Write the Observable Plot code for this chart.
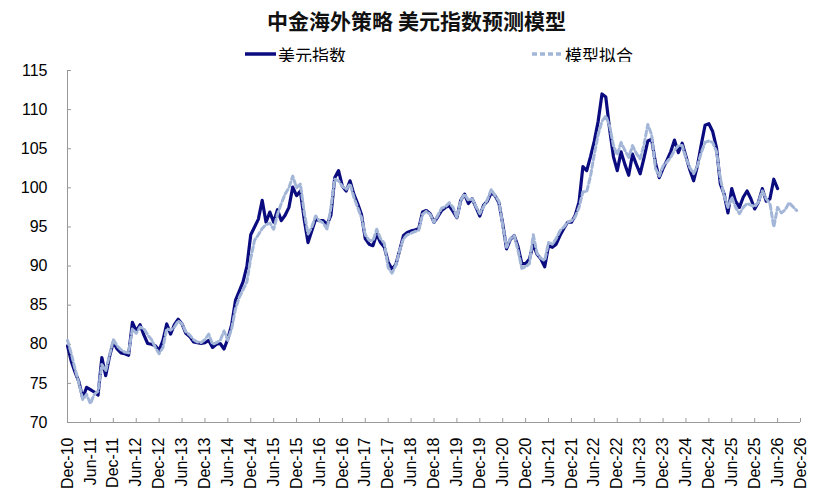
<!DOCTYPE html>
<html><head><meta charset="utf-8">
<script src="https://cdn.jsdelivr.net/npm/d3@7"></script>
<script src="https://cdn.jsdelivr.net/npm/@observablehq/plot@0.6"></script>
<style>
body{margin:0;background:#fff;width:833px;height:503px;overflow:hidden;font-family:"Liberation Sans",Arial,sans-serif;}
#title{position:absolute;left:0;top:6px;width:833px;text-align:center;font:bold 21px "Noto Sans CJK SC",sans-serif;color:#111;line-height:28px;}
.leg{position:absolute;top:42px;height:24px;display:flex;align-items:center;font:17px "Noto Sans CJK SC",sans-serif;color:#000;}
#chart{position:absolute;left:0;top:62px;}
</style></head>
<body>
<div id="title">中金海外策略 美元指数预测模型</div>
<div class="leg" style="left:245px"><svg width="32" height="10"><line x1="0" y1="5" x2="31" y2="5" stroke="#0b0b80" stroke-width="3.5"/></svg><span style="margin-left:1px">美元指数</span></div>
<div class="leg" style="left:532px"><svg width="32" height="10"><line x1="0" y1="5" x2="31" y2="5" stroke="#a3b6d8" stroke-width="3.5" stroke-dasharray="5,3"/></svg><span style="margin-left:1px">模型拟合</span></div>
<div id="chart"></div>
<script>
// Monthly values starting Dec-10
const dollarIndex = [
79.8,77.8,76.4,75.2,73.1,74.5,74.2,73.9,73.5,78.3,76.0,78.4,
80.3,79.4,78.9,78.8,78.6,82.8,81.7,82.5,81.2,80.1,80.0,79.8,
79.2,80.5,82.6,81.3,82.5,83.2,82.6,81.4,81.0,80.3,80.2,80.1,
80.2,80.5,79.6,80.0,80.1,79.4,80.7,82.5,85.6,86.8,88.0,90.0,
94.0,95.0,96.0,98.4,95.6,96.9,95.6,97.2,95.8,96.5,97.5,100.1,
99.0,99.6,96.0,93.0,94.5,96.0,95.8,95.8,95.3,96.5,101.3,102.2,
100.2,99.6,100.9,99.2,98.0,96.6,93.5,92.8,92.6,94.1,93.0,92.4,
90.5,89.6,90.2,92.0,93.9,94.3,94.5,94.6,94.8,96.9,97.1,96.7,
95.6,96.3,97.1,97.5,97.7,97.0,96.2,98.4,99.2,98.0,98.6,97.5,
96.4,97.8,98.3,99.4,99.0,98.1,95.4,92.2,93.4,93.9,92.5,90.3,
90.3,90.9,92.8,91.5,90.9,89.9,92.6,92.4,92.8,93.9,94.8,95.6,
95.6,96.5,98.2,102.7,102.2,104.0,106.0,108.5,112.0,111.6,107.5,104.0,
102.2,104.6,103.0,101.6,104.3,103.0,101.8,103.8,106.0,106.2,103.2,101.3,
102.5,103.5,104.6,106.1,104.5,105.7,104.0,102.3,100.9,102.8,105.5,108.0,
108.2,107.2,105.1,100.5,99.2,96.8,99.9,98.3,97.5,98.8,99.6,98.6,
97.3,98.2,99.9,98.3,98.6,101.1,99.9
];
const modelFit = [
80.5,78.8,76.8,75.0,72.9,73.6,72.4,73.6,74.0,77.4,76.6,78.6,
80.6,79.8,79.3,79.0,78.9,82.0,81.4,82.2,82.0,81.2,80.6,79.6,
78.8,79.6,82.0,81.8,82.2,83.0,82.6,81.6,81.2,80.6,80.3,80.2,
80.6,81.3,80.0,80.2,80.5,81.7,80.5,82.0,84.5,86.0,87.0,88.0,
91.0,93.3,94.0,94.8,95.3,95.5,94.7,96.6,98.0,99.2,100.0,101.5,
100.0,100.5,96.9,94.1,95.0,96.4,95.8,95.5,94.7,97.5,101.1,100.9,
100.2,99.8,100.5,98.8,97.5,96.2,94.0,93.3,93.2,94.7,93.5,92.9,
89.8,89.1,90.1,92.0,93.5,94.0,94.2,94.4,94.6,96.6,97.0,96.6,
95.6,96.5,97.4,97.6,98.1,97.5,96.2,98.4,99.2,98.4,98.6,97.6,
96.7,97.6,98.5,99.8,99.0,98.3,95.2,92.4,93.5,93.9,92.0,89.7,
89.9,90.3,94.0,91.6,91.0,90.7,93.0,92.8,93.5,94.5,95.0,95.6,
95.8,96.3,97.5,99.5,99.5,101.5,104.3,106.8,108.5,109.2,107.9,105.4,
104.2,105.8,104.8,103.9,105.4,104.4,103.7,105.5,108.1,106.8,102.5,101.5,
102.8,103.3,103.9,104.8,105.4,105.4,103.8,102.6,101.8,102.8,104.5,105.8,
106.0,105.8,104.6,101.2,99.0,97.5,98.8,97.5,96.7,97.5,98.0,97.8,
97.6,98.2,99.6,98.6,98.0,95.0,97.5,96.8,97.2,98.1,97.6,97.1
];
const tickLabels = ["Dec-10","Jun-11","Dec-11","Jun-12","Dec-12","Jun-13","Dec-13","Jun-14","Dec-14","Jun-15","Dec-15","Jun-16","Dec-16","Jun-17","Dec-17","Jun-18","Dec-18","Jun-19","Dec-19","Jun-20","Dec-20","Jun-21","Dec-21","Jun-22","Dec-22","Jun-23","Dec-23","Jun-24","Dec-24","Jun-25","Dec-25","Jun-26","Dec-26"];
const yTicks = [70,75,80,85,90,95,100,105,110,115];

const actualData = dollarIndex.map((v, i) => ({m: i, v}));
const modelData = modelFit.map((v, i) => ({m: i, v}));
const xTicks = tickLabels.map((_, i) => i * 6);
const fmtX = d => tickLabels[Math.round(d / 6)];

const chart = Plot.plot({
  width: 833, height: 441,
  marginTop: 8, marginBottom: 81, marginLeft: 67, marginRight: 33,
  style: {fontFamily: "'Liberation Sans', Arial, sans-serif", fontSize: "16px", color: "#000", background: "#fff", overflow: "visible"},
  x: {domain: [0, 192]},
  y: {domain: [70, 115]},
  marks: [
    Plot.axisX({ticks: xTicks, tickFormat: fmtX, tickRotate: -90, tickSize: 4, dy: -4, tickPadding: 15, stroke: "#999", fill: "#000", fontSize: 16, label: null}),
    Plot.axisY({ticks: yTicks, tickSize: 4, dx: 4, tickPadding: 20, stroke: "#999", fill: "#000", fontSize: 16, label: null}),
    Plot.ruleX([0], {stroke: "#999"}),
    Plot.ruleY([70], {stroke: "#999"}),
    Plot.line(actualData, {x: "m", y: "v", stroke: "#0b0b80", strokeWidth: 3.2, curve: "linear"}),
    Plot.line(modelData, {x: "m", y: "v", stroke: "#a3b6d8", strokeWidth: 3, strokeDasharray: "5,3", curve: "linear"})
  ]
});
document.getElementById("chart").appendChild(chart);
</script>
</body></html>
